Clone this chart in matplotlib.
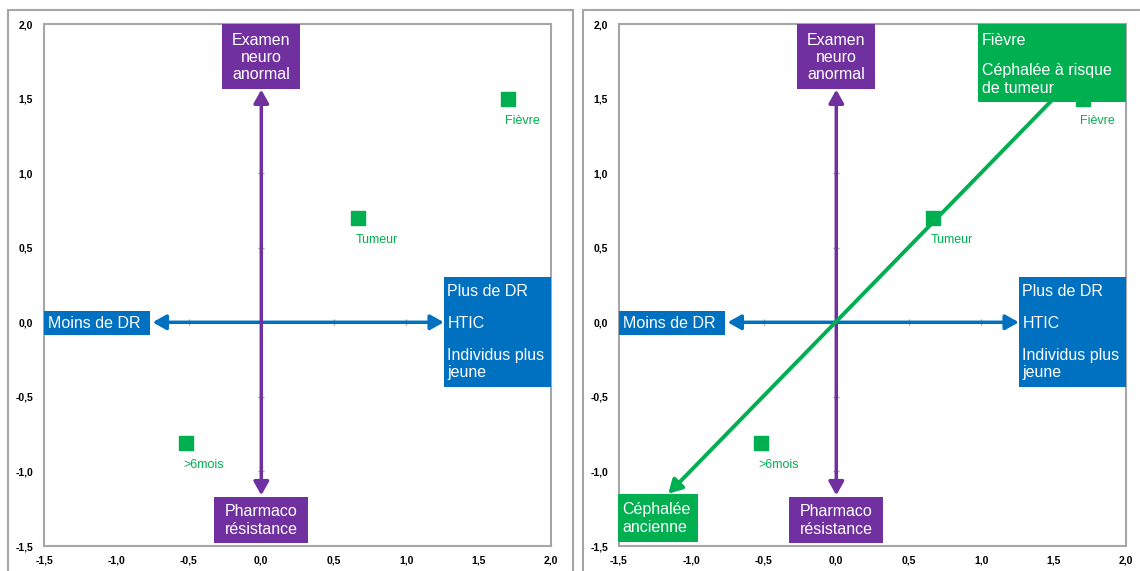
import matplotlib
matplotlib.use("Agg")
import matplotlib.pyplot as plt
from matplotlib.patches import Rectangle, FancyArrowPatch

plt.rcParams['font.family'] = ['Liberation Sans', 'DejaVu Sans']

# ---- data ----
point_names = ["Fièvre", "Tumeur", ">6mois"]
point_x = [1.70, 0.67, -0.52]
point_y = [1.50, 0.70, -0.81]
tick_vals = [-1.5, -1.0, -0.5, 0.0, 0.5, 1.0, 1.5, 2.0]
tick_labels = ["-1,5", "-1,0", "-0,5", "0,0", "0,5", "1,0", "1,5", "2,0"]

BLUE = "#0070C0"
PURPLE = "#7030A0"
GREEN = "#00B050"
GRAY = "#A6A6A6"

W, H = 1140, 571
fig = plt.figure(figsize=(W / 100, H / 100), dpi=100)

# outer chart frames
for x0, x1 in [(8, 573), (583, 1150)]:
    fig.add_artist(Rectangle((x0 / W, -0.05), (x1 - x0) / W, 1 - 10 / H + 0.05,
                             transform=fig.transFigure, fill=False,
                             edgecolor=GRAY, lw=1.5, clip_on=False))


def px2fig(px, py):
    return px / W, 1 - py / H


def make_panel(left_px, right_px, with_line):
    l, t = px2fig(left_px, 24)
    r, b = px2fig(right_px, 546)
    ax = fig.add_axes([l, b, r - l, t - b])
    ax.set_xlim(-1.5, 2.0)
    ax.set_ylim(-1.5, 2.0)
    for s in ax.spines.values():
        s.set_color(GRAY)
        s.set_linewidth(1.5)
    ax.set_xticks(tick_vals)
    ax.set_xticklabels(tick_labels)
    ax.set_yticks(tick_vals)
    ax.set_yticklabels(tick_labels)
    ax.tick_params(length=0, labelsize=7.5)
    ax.tick_params(axis="y", pad=8)
    ax.tick_params(axis="x", pad=7)
    for lab in ax.get_xticklabels() + ax.get_yticklabels():
        lab.set_fontweight("bold")

    # small tick marks on the zero axes
    ax.scatter(tick_vals, [0] * len(tick_vals), marker="|", s=25, color=GRAY, lw=1, zorder=1)
    ax.scatter([0] * len(tick_vals), tick_vals, marker="_", s=25, color=GRAY, lw=1, zorder=1)

    # double arrows
    style = "<|-|>,head_length=8,head_width=4.5"
    ax.add_patch(FancyArrowPatch((-0.75, 0), (1.26, 0), arrowstyle=style,
                                 color=BLUE, lw=2.5, shrinkA=0, shrinkB=0, zorder=3))
    ax.add_patch(FancyArrowPatch((0, -1.16), (0, 1.56), arrowstyle=style,
                                 color=PURPLE, lw=2.5, shrinkA=0, shrinkB=0, zorder=3))

    if with_line:
        ax.add_patch(FancyArrowPatch((1.5, 1.5), (-1.16, -1.15), arrowstyle="-|>,head_length=8,head_width=4.5",
                                     color=GREEN, lw=2.8, shrinkA=0, shrinkB=0, zorder=3))

    # points + labels
    ax.scatter(point_x, point_y, marker="s", s=110, color=GREEN, zorder=4)
    for n, x, y in zip(point_names, point_x, point_y):
        ax.annotate(n, (x, y), xytext=(-2, -16), textcoords="offset points",
                    ha="left", va="center", fontsize=9, color=GREEN, zorder=4)

    fs = 11.5

    def box(x0, x1, y0, y1, color):
        ax.add_patch(Rectangle((x0, y0), x1 - x0, y1 - y0, facecolor=color,
                               edgecolor="none", zorder=5, clip_on=False))

    kw = dict(color="white", fontsize=fs, va="center", zorder=6, linespacing=1.2)
    # Moins de DR
    box(-1.5, -0.765, -0.087, 0.074, BLUE)
    ax.text(-1.475, -0.005, "Moins de DR", ha="left", **kw)
    # Plus de DR
    box(1.262, 2.0, -0.436, 0.302, BLUE)
    ax.text(1.285, 0.205, "Plus de DR", ha="left", **kw)
    ax.text(1.285, -0.005, "HTIC", ha="left", **kw)
    ax.text(1.285, -0.28, "Individus plus\njeune", ha="left", **kw)
    # Examen neuro anormal
    box(-0.269, 0.269, 1.564, 2.0, PURPLE)
    ax.text(0, 1.775, "Examen\nneuro\nanormal", ha="center", **kw)
    # Pharmaco résistance
    box(-0.324, 0.324, -1.483, -1.174, PURPLE)
    ax.text(0, -1.33, "Pharmaco\nrésistance", ha="center", **kw)

    if with_line:
        box(0.979, 2.0, 1.477, 2.0, GREEN)
        ax.text(1.005, 1.888, "Fièvre", ha="left", **kw)
        ax.text(1.005, 1.628, "Céphalée à risque\nde tumeur", ha="left", **kw)
        box(-1.51, -0.952, -1.47, -1.154, GREEN)
        ax.text(-1.475, -1.315, "Céphalée\nancienne", ha="left", **kw)
    return ax


make_panel(44, 551, False)
make_panel(619, 1126, True)

fig.savefig("out.png", dpi=100)
